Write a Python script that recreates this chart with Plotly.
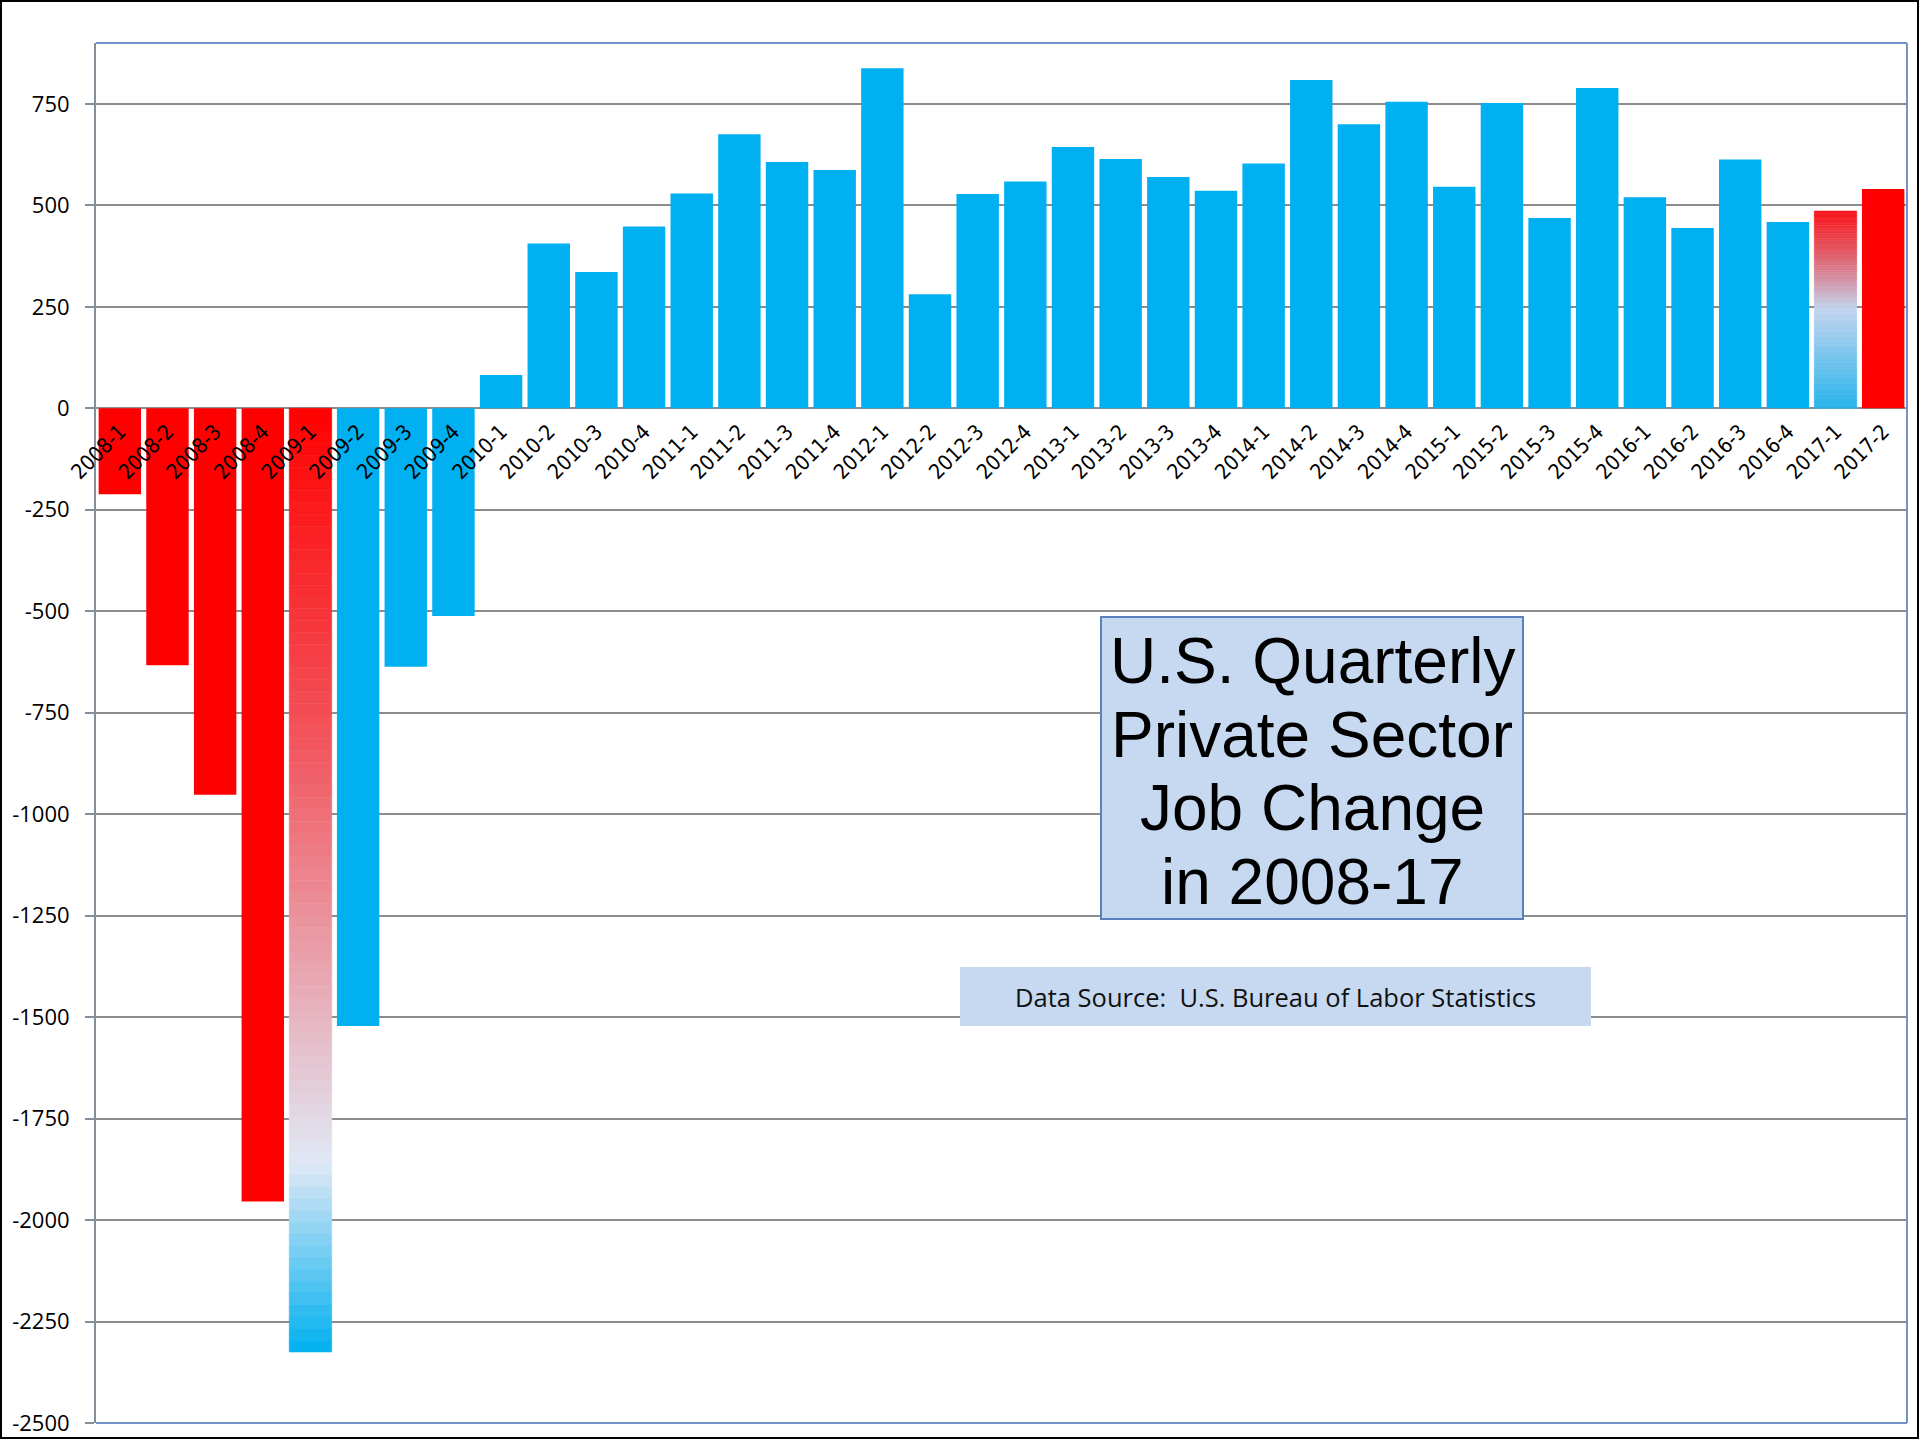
import plotly.graph_objects as go

# ---------------- data ----------------
quarters = [
    "2008-1", "2008-2", "2008-3", "2008-4",
    "2009-1", "2009-2", "2009-3", "2009-4",
    "2010-1", "2010-2", "2010-3", "2010-4",
    "2011-1", "2011-2", "2011-3", "2011-4",
    "2012-1", "2012-2", "2012-3", "2012-4",
    "2013-1", "2013-2", "2013-3", "2013-4",
    "2014-1", "2014-2", "2014-3", "2014-4",
    "2015-1", "2015-2", "2015-3", "2015-4",
    "2016-1", "2016-2", "2016-3", "2016-4",
    "2017-1", "2017-2",
]
job_change = [
    -212, -633, -952, -1954,
    -2325, -1522, -637, -512,
    82, 406, 336, 448,
    529, 675, 607, 587,
    838, 281, 528, 559,
    644, 614, 570, 536,
    603, 809, 700, 755,
    546, 752, 469, 789,
    520, 444, 613, 459,
    486, 540,
]
red_quarters = ["2008-1", "2008-2", "2008-3", "2008-4", "2017-2"]
gradient_quarters = ["2009-1", "2017-1"]

y_tick_vals = [-2500, -2250, -2000, -1750, -1500, -1250, -1000, -750, -500, -250, 0, 250, 500, 750]
y_tick_text = ["-2500", "-2250", "-2000", "-1750", "-1500", "-1250", "-1000", "-750", "-500", "-250", "0", "250", "500", "750"]
y_range = [-2500, 900]

title_lines = ["U.S. Quarterly", "Private Sector", "Job Change", "in 2008-17"]
source_text = "Data Source:  U.S. Bureau of Labor Statistics"

# ---------------- styles ----------------
RED = "#FF0000"
BLUE = "#00B0F0"
GRID = "#8C8C8C"
FRAME = "#7393C6"
BOX_FILL = "#C6D9F1"
GRADIENT_STOPS = {
    "2009-1": [(0.0, (255, 0, 0)), (0.35, (242, 84, 92)), (0.80, (224, 232, 245)), (1.0, (0, 176, 240))],
    "2017-1": [(0.0, (250, 20, 26)), (0.25, (222, 104, 118)), (0.50, (194, 212, 238)), (1.0, (40, 180, 236))],
}

W, H = 1920, 1440
ML, MR, MT, MB = 96, 13, 43, 17
PW, PH = W - ML - MR, H - MT - MB


def px(x):
    return (x - ML) / PW


def py(y):
    return (H - MB - y) / PH


def interp(stops, t):
    for (t0, c0), (t1, c1) in zip(stops[:-1], stops[1:]):
        if t0 <= t <= t1:
            f = (t - t0) / (t1 - t0) if t1 > t0 else 0
            c = [round(a + (b - a) * f) for a, b in zip(c0, c1)]
            return "rgb(%d,%d,%d)" % tuple(c)
    c = stops[-1][1]
    return "rgb(%d,%d,%d)" % c


colors = []
for q in quarters:
    if q in red_quarters:
        colors.append(RED)
    elif q in gradient_quarters:
        colors.append("rgba(0,0,0,0)")
    else:
        colors.append(BLUE)

fig = go.Figure()
fig.add_trace(go.Bar(
    x=quarters, y=job_change,
    marker=dict(color=colors, line=dict(width=0)),
    hoverinfo="x+y", showlegend=False,
))

# gradient bars built as stacked thin segments of the same bar
N = 80
for q in gradient_quarters:
    v = job_change[quarters.index(q)]
    top = max(v, 0)
    bottom = min(v, 0)
    h = (top - bottom) / N
    bases, heights, segc = [], [], []
    for i in range(N):
        seg_top = top - i * h
        t = (i + 0.5) / N
        bases.append(seg_top - h)
        heights.append(h)
        segc.append(interp(GRADIENT_STOPS[q], t))
    fig.add_trace(go.Bar(
        x=[q] * N, y=heights, base=bases,
        marker=dict(color=segc, line=dict(color=segc, width=0.6)),
        hoverinfo="skip", showlegend=False,
    ))

zero_pos = (0 - y_range[0]) / (y_range[1] - y_range[0])

fig.update_layout(
    width=W, height=H,
    margin=dict(l=ML, r=MR, t=MT, b=MB, autoexpand=False),
    paper_bgcolor="white", plot_bgcolor="white",
    barmode="overlay", bargap=0.11,
    showlegend=False,
    xaxis=dict(
        type="category", anchor="free", position=zero_pos,
        tickmode="linear", dtick=1,
        tickangle=-45, showgrid=False, showline=False, zeroline=False,
        ticks="", ticklabelstandoff=6,
        tickfont=dict(family="DejaVu Sans Condensed, Liberation Sans, Arial", size=21, color="black"),
        range=[-0.5, len(quarters) - 0.5],
    ),
    yaxis=dict(
        range=y_range, tickmode="array", tickvals=y_tick_vals, ticktext=y_tick_text,
        showgrid=True, gridcolor=GRID, gridwidth=2,
        zeroline=True, zerolinecolor=GRID, zerolinewidth=2,
        showline=True, linecolor="#868E9A", linewidth=2,
        ticks="outside", ticklen=9, tickwidth=2, tickcolor="#868E9A",
        ticklabelstandoff=11,
        tickfont=dict(family="Open Sans, Lato, sans-serif", size=22, color="black"),
    ),
)

shapes = [
    # plot frame (top, right, bottom)
    dict(type="line", xref="paper", yref="paper", x0=0, x1=1, y0=1, y1=1, line=dict(color=FRAME, width=2)),
    dict(type="line", xref="paper", yref="paper", x0=1, x1=1, y0=0, y1=1, line=dict(color=FRAME, width=2)),
    dict(type="line", xref="paper", yref="paper", x0=0, x1=1, y0=0, y1=0, line=dict(color=FRAME, width=2)),
    # outer black border
    dict(type="rect", xref="paper", yref="paper", x0=px(1), x1=px(W - 2), y0=py(1), y1=py(H - 2),
         line=dict(color="black", width=2), fillcolor="rgba(0,0,0,0)"),
    # title box
    dict(type="rect", xref="paper", yref="paper", x0=px(1101), x1=px(1523), y0=py(919), y1=py(617),
         line=dict(color="#5B82BE", width=2), fillcolor=BOX_FILL, layer="above"),
    # source box
    dict(type="rect", xref="paper", yref="paper", x0=px(960), x1=px(1591), y0=py(1026), y1=py(967),
         line=dict(width=0), fillcolor=BOX_FILL, layer="above"),
]
fig.update_layout(shapes=shapes)

line_centers = [658, 732, 805, 879]
annotations = []
for txt, yc in zip(title_lines, line_centers):
    annotations.append(dict(
        text=txt, xref="paper", yref="paper", x=px(1312), y=py(yc + 3),
        xanchor="center", yanchor="middle", showarrow=False,
        font=dict(family="Liberation Sans, Arial", size=64, color="black"),
    ))
annotations.append(dict(
    text=source_text, xref="paper", yref="paper", x=px(1275), y=py(997),
    xanchor="center", yanchor="middle", showarrow=False,
    font=dict(family="Open Sans, Lato, sans-serif", size=25.5, color="#111111"),
))
fig.update_layout(annotations=annotations)

fig.write_html(
    "out.html",
    config={"displayModeBar": False},
    post_script="document.body.style.margin='0';document.body.style.overflow='hidden';",
)
